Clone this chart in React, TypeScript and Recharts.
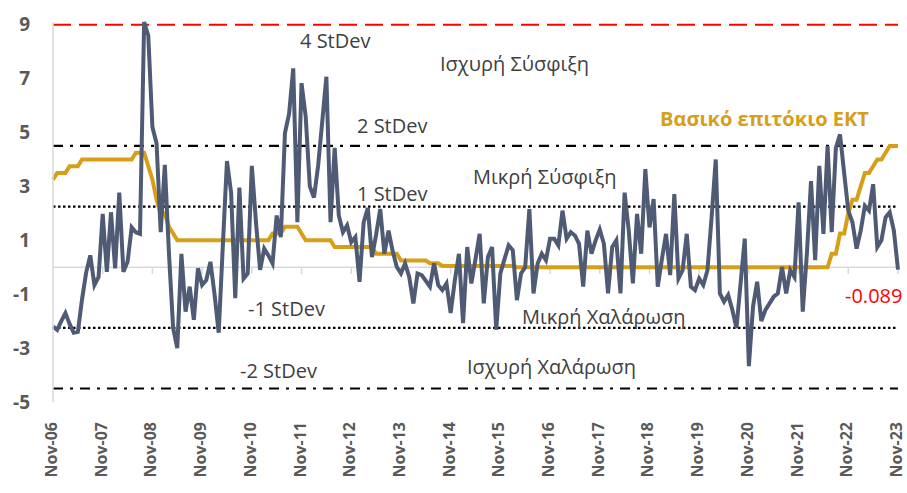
import { LineChart, Line, XAxis, YAxis, ReferenceLine } from 'recharts';

// ─── Data ─────────────────────────────────────────────────────────────────────

const MONTH_NAMES = ['Jan', 'Feb', 'Mar', 'Apr', 'May', 'Jun', 'Jul', 'Aug', 'Sep', 'Oct', 'Nov', 'Dec'];

// monthly categories, Nov-06 .. Nov-23
const months: string[] = [];
for (let i = 0; i < 205; i++) {
  const m = (10 + i) % 12;
  const y = 6 + Math.floor((10 + i) / 12);
  months.push(`${MONTH_NAMES[m]}-${String(y).padStart(2, '0')}`);
}

const yearTicks = [
  'Nov-06', 'Nov-07', 'Nov-08', 'Nov-09', 'Nov-10', 'Nov-11', 'Nov-12', 'Nov-13', 'Nov-14',
  'Nov-15', 'Nov-16', 'Nov-17', 'Nov-18', 'Nov-19', 'Nov-20', 'Nov-21', 'Nov-22', 'Nov-23',
];

const yTicks = [-5, -3, -1, 1, 3, 5, 7, 9];

// monetary stance indicator (grey line)
const stance = [
  -2.2, -2.32, -2.0, -1.7, -2.1, -2.43, -2.4, -1.2, -0.2, 0.44, -0.66, -0.36,
  1.98, -0.17, 2.04, -0.04, 2.77, -0.17, 0.2, 1.48, 1.3, 1.24, 9.1, 8.6,
  5.2, 4.6, 1.3, 3.8, 0.5, -2.25, -3.0, 0.5, -1.65, -0.72, -1.95, -0.04,
  -0.66, -0.48, 0.2, -1.0, -2.43, 0.8, 3.94, 2.77, -1.15, 2.96, -0.42, -0.23,
  3.76, 1.67, -0.1, 0.69, 0.44, 0.14, 1.92, 1.12, 4.98, 5.7, 7.38, 1.67,
  6.83, 5.6, 3.0, 2.59, 3.76, 5.4, 7.07, 1.67, 4.43, 1.92, 1.3, 1.55,
  0.93, 1.12, -0.54, 1.67, 2.2, 0.38, 1.2, 2.16, 0.5, 1.36, 0.6, 0.01,
  -0.23, 0.14, -0.36, -1.34, -0.23, -0.29, -0.5, -0.72, 0.14, -0.66, -0.85, -0.6,
  -1.7, -0.5, 0.5, -2.07, 0.75, -0.6, 0.3, 1.24, -1.34, 0.38, 0.75, -2.32,
  -0.23, 0.3, 0.81, 0.63, -1.22, -0.23, 0.01, 2.16, -0.97, 0.14, 0.5, 0.26,
  1.06, 1.06, 0.81, 2.1, 1.06, 1.3, 1.18, 0.87, -0.72, 1.36, 0.5, 1.0,
  1.4, 0.87, -0.97, 0.75, 1.0, -0.97, 2.77, 1.36, -0.6, 1.98, 0.5, 3.64,
  1.48, 2.53, -0.72, 0.3, 1.24, -0.29, 2.71, -0.42, -0.11, 1.24, -0.72, -0.85,
  -0.42, -0.66, -0.11, 1.85, 4.0, -0.97, -1.28, -1.03, -1.58, -2.26, -0.6, 1.06,
  -3.67, -1.46, -0.54, -2.0, -1.58, -1.34, -1.09, -0.97, 0.01, -0.97, -0.11, -0.36,
  2.41, -1.65, 0.5, 3.2, 0.26, 3.76, 1.24, 4.5, 1.3, 4.43, 4.93, 3.5,
  2.1, 1.67, 0.69, 1.36, 2.28, 2.1, 3.08, 0.75, 1.0, 1.85, 2.04, 1.36,
  -0.089,
];

// ECB main refinancing rate
const ecbRate = [
  3.25, 3.5, 3.5, 3.5, 3.75, 3.75, 3.75, 4, 4, 4, 4, 4,
  4, 4, 4, 4, 4, 4, 4, 4, 4.25, 4.25, 4.25, 3.75,
  3.25, 2.5, 2, 2, 1.5, 1.25, 1, 1, 1, 1, 1, 1,
  1, 1, 1, 1, 1, 1, 1, 1, 1, 1, 1, 1,
  1, 1, 1, 1, 1, 1.25, 1.25, 1.25, 1.5, 1.5, 1.5, 1.5,
  1.25, 1, 1, 1, 1, 1, 1, 1, 0.75, 0.75, 0.75, 0.75,
  0.75, 0.75, 0.75, 0.75, 0.75, 0.75, 0.5, 0.5, 0.5, 0.5, 0.5, 0.5,
  0.25, 0.25, 0.25, 0.25, 0.25, 0.25, 0.25, 0.15, 0.15, 0.15, 0.05, 0.05,
  0.05, 0.05, 0.05, 0.05, 0.05, 0.05, 0.05, 0.05, 0.05, 0.05, 0.05, 0.05,
  0.05, 0.05, 0.05, 0.05, 0, 0, 0, 0, 0, 0, 0, 0,
  0, 0, 0, 0, 0, 0, 0, 0, 0, 0, 0, 0,
  0, 0, 0, 0, 0, 0, 0, 0, 0, 0, 0, 0,
  0, 0, 0, 0, 0, 0, 0, 0, 0, 0, 0, 0,
  0, 0, 0, 0, 0, 0, 0, 0, 0, 0, 0, 0,
  0, 0, 0, 0, 0, 0, 0, 0, 0, 0, 0, 0,
  0, 0, 0, 0, 0, 0, 0, 0, 0.5, 0.5, 1.25, 1.25,
  2, 2.5, 2.5, 3, 3.5, 3.5, 3.75, 4, 4, 4.25, 4.5, 4.5,
  4.5,
];

const chartData = months.map((m, i) => ({ month: m, stance: stance[i], ecb: ecbRate[i] }));

// ─── Styling ──────────────────────────────────────────────────────────────────

const FONT = '"Open Sans", sans-serif';
const GREY_TEXT = '#404040';
const AXIS_TEXT = '#595959';
const DASH_DOT = '10 7 3 7';
const DOTTED = '2.5 2.5';

// rotated year label; nudged a touch left so the last one stays inside the frame
function MonthTick({ x, y, payload }: any) {
  return (
    <text
      transform={`translate(${x - 2},${y + 20}) rotate(-90)`}
      textAnchor="end"
      dominantBaseline="central"
      fontFamily={FONT}
      fontSize={16}
      fontWeight={700}
      fill={AXIS_TEXT}
    >
      {payload.value}
    </text>
  );
}

const notes = [
  { text: '4 StDev', x: 300, y: 40 },
  { text: 'Ισχυρή Σύσφιξη', x: 440, y: 63 },
  { text: '2 StDev', x: 357, y: 125 },
  { text: 'Μικρή Σύσφιξη', x: 473, y: 176 },
  { text: '1 StDev', x: 357, y: 193 },
  { text: '-1 StDev', x: 248, y: 308 },
  { text: 'Μικρή Χαλάρωση', x: 522, y: 316 },
  { text: '-2 StDev', x: 240, y: 370 },
  { text: 'Ισχυρή Χαλάρωση', x: 467, y: 366 },
];

export default function App() {
  return (
    <div style={{ position: 'absolute', left: 0, top: 0, width: 907, height: 493, background: '#fff' }}>
      <LineChart
        width={907}
        height={493}
        data={chartData}
        margin={{ top: 22, right: 9, bottom: 0, left: 0 }}
      >
        <XAxis
          dataKey="month"
          scale="point"
          interval={11}
          height={91}
          tickLine={false}
          axisLine={false}
          tickSize={0}
          tickMargin={0}
          tick={<MonthTick />}
        />
        <YAxis
          domain={[-5, 9]}
          ticks={yTicks}
          width={53}
          tickLine={false}
          tickSize={0}
          tickMargin={23}
          axisLine={{ stroke: '#d9d9d9', strokeWidth: 1.5 }}
          tick={{ fontFamily: FONT, fontSize: 19, fontWeight: 700, fill: AXIS_TEXT }}
        />
        <ReferenceLine y={0} stroke="#d9d9d9" strokeWidth={1.5} />
        {yearTicks.map((t) => (
          <ReferenceLine
            key={t}
            segment={[{ x: t, y: 0 }, { x: t, y: -0.25 }]}
            stroke="#d9d9d9"
            strokeWidth={1.5}
          />
        ))}
        <ReferenceLine y={9} stroke="#ff0000" strokeWidth={2} strokeDasharray="18 8" />
        <ReferenceLine y={4.5} stroke="#000" strokeWidth={2.2} strokeDasharray={DASH_DOT} />
        <ReferenceLine y={2.25} stroke="#000" strokeWidth={2.2} strokeDasharray={DOTTED} />
        <ReferenceLine y={-2.25} stroke="#000" strokeWidth={2.2} strokeDasharray={DOTTED} />
        <ReferenceLine y={-4.5} stroke="#000" strokeWidth={2.2} strokeDasharray={DASH_DOT} />
        <Line
          dataKey="ecb"
          type="linear"
          stroke="#d69e19"
          strokeWidth={4}
          dot={false}
          isAnimationActive={false}
        />
        <Line
          dataKey="stance"
          type="linear"
          stroke="#4f5b74"
          strokeWidth={4}
          dot={false}
          isAnimationActive={false}
        />
      </LineChart>
      <svg
        width={907}
        height={493}
        style={{ position: 'absolute', left: 0, top: 0, pointerEvents: 'none' }}
      >
        {notes.map((n) => (
          <text
            key={n.text}
            x={n.x}
            y={n.y}
            dominantBaseline="central"
            fontFamily={FONT}
            fontSize={20}
            fill={GREY_TEXT}
          >
            {n.text}
          </text>
        ))}
        <text x={660} y={118} dominantBaseline="central" fontFamily={FONT} fontSize={20} fontWeight={700} fill="#d69e19">
          Βασικό επιτόκιο ΕΚΤ
        </text>
        <text x={845} y={295} dominantBaseline="central" fontFamily={FONT} fontSize={20} fill="#ff0000">
          -0.089
        </text>
      </svg>
    </div>
  );
}
